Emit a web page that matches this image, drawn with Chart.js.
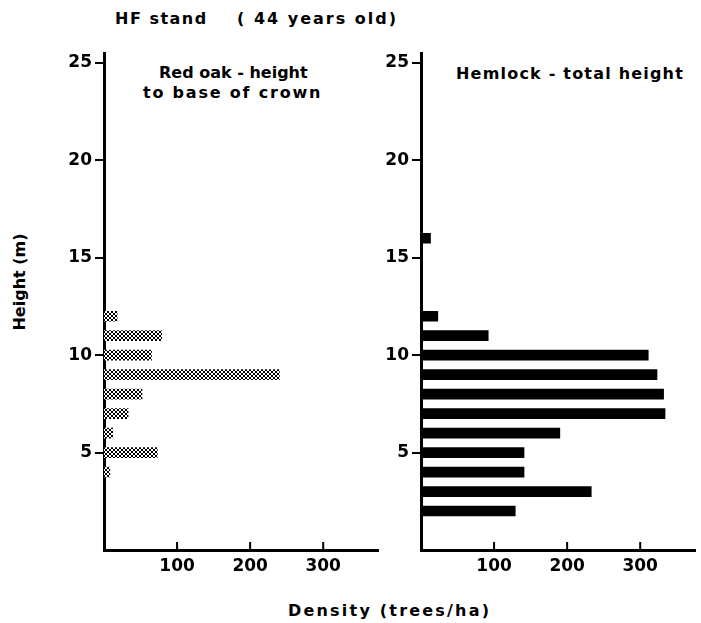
<!DOCTYPE html>
<html><head><meta charset="utf-8">
<script src="https://cdn.jsdelivr.net/npm/chart.js@4.4.1/dist/chart.umd.min.js"></script>
<style>
html,body{margin:0;padding:0;background:#fff;width:701px;height:623px;overflow:hidden;font-family:"DejaVu Sans",sans-serif;}
.t{position:absolute;font-weight:bold;font-size:16px;line-height:16px;color:#000;white-space:pre;}
canvas{position:absolute;}
</style></head><body>
<div class="t" style="left:115px;top:11px;letter-spacing:1.5px;">HF stand</div>
<div class="t" style="left:237px;top:11px;letter-spacing:2px;">( 44 years old)</div>
<div class="t" style="left:159px;top:65px;letter-spacing:0px;">Red oak - height</div>
<div class="t" style="left:143px;top:85px;letter-spacing:1.8px;">to base of crown</div>
<div class="t" style="left:456px;top:66px;letter-spacing:1.2px;">Hemlock - total height</div>
<div class="t" style="left:288px;top:603px;letter-spacing:2.2px;">Density (trees/ha)</div>
<div class="t" style="left:-29px;top:274px;width:98px;text-align:center;transform:rotate(-90deg);transform-origin:center;">Height (m)</div>
<canvas id="c1" width="343" height="545" style="left:40px;top:40px;width:343px;height:545px"></canvas>
<canvas id="c2" width="347" height="545" style="left:353px;top:40px;width:347px;height:545px"></canvas>
<script>
// Data
const oakHeights = [12, 11, 10, 9, 8, 7, 6, 5, 4];
const oakDensity = [18, 79, 65, 240, 52, 33, 12, 73, 8];
const hemlockHeights = [16, 12, 11, 10, 9, 8, 7, 6, 5, 4, 3, 2];
const hemlockDensity = [13, 23, 92, 311, 323, 332, 334, 190, 141, 141, 233, 129];
const xTickValues = [100, 200, 300];
const yTickValues = [5, 10, 15, 20, 25];

function makePattern(){
  const c = document.createElement('canvas'); c.width = 4; c.height = 4;
  const g = c.getContext('2d');
  g.fillStyle = '#fff'; g.fillRect(0,0,4,4);
  g.fillStyle = '#000';
  [[0,0],[1,1],[2,2],[3,3],[3,0],[2,1],[1,2],[0,3]].forEach(p=>g.fillRect(p[0],p[1],1,1));
  return g.createPattern(c,'repeat');
}

const inwardTicks = {
  id:'inwardTicks',
  afterDraw(chart){
    const x = chart.scales.x, ctx = chart.ctx, b = chart.chartArea.bottom;
    ctx.save(); ctx.strokeStyle='#000'; ctx.lineWidth=2;
    xTickValues.forEach(v=>{const px=x.getPixelForValue(v);ctx.beginPath();ctx.moveTo(px,b);ctx.lineTo(px,b-8);ctx.stroke();});
    ctx.restore();
  }
};

const tickFont = {family:'DejaVu Sans', size:17, weight:'bold'};

function make(id, heights, values, color, yWidth){
  return new Chart(document.getElementById(id), {
    type:'bar',
    data:{datasets:[{data:heights.map((h,i)=>({x:values[i], y:h})), backgroundColor:color, borderWidth:0, barThickness:10}]},
    options:{
      indexAxis:'y', responsive:false, animation:false,
      layout:{padding:{top:12, right:5}},
      plugins:{legend:{display:false}, tooltip:{enabled:false}},
      scales:{
        x:{type:'linear', min:0, max:375, offset:false,
          afterBuildTicks:s=>{s.ticks = xTickValues.map(v=>({value:v}));},
          afterFit:s=>{s.height=35;},
          grid:{display:false, drawTicks:false},
          border:{display:true, color:'#000', width:3},
          ticks:{color:'#000', padding:6, font:tickFont}},
        y:{type:'linear', min:0, max:25.5, offset:false,
          afterBuildTicks:s=>{s.ticks = yTickValues.map(v=>({value:v}));},
          afterFit:s=>{s.width=yWidth;},
          grid:{display:true, offset:false, drawOnChartArea:false, drawTicks:true, tickLength:9, color:'#000', lineWidth:2},
          border:{display:true, color:'#000', width:3},
          ticks:{color:'#000', padding:3, font:tickFont}}
      }
    },
    plugins:[inwardTicks]
  });
}
make('c1', oakHeights, oakDensity, makePattern(), 64);
make('c2', hemlockHeights, hemlockDensity, '#000', 68);
</script>
</body></html>
